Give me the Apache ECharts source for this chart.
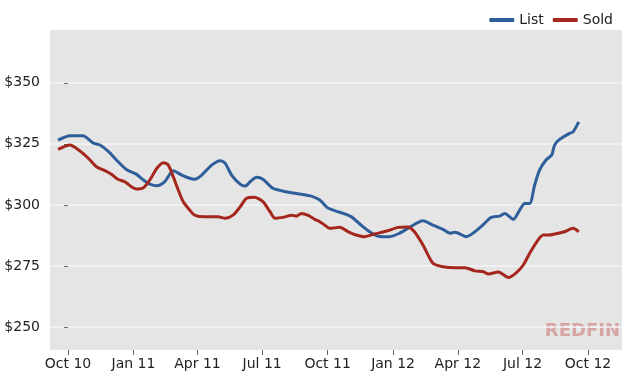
<!DOCTYPE html>
<html>
<head>
<meta charset="utf-8">
<script src="https://cdn.jsdelivr.net/npm/echarts@6/dist/echarts.min.js"></script>
<style>html,body{margin:0;padding:0;background:#fff;}#c{width:625px;height:375px;}</style>
</head>
<body>
<div id="c"></div>
<script>
// ---- Data ----
const listDates = ['2010-09-17','2010-10-04','2010-10-22','2010-11-05','2010-11-15','2010-11-27','2010-12-08','2010-12-22',
  '2011-01-05','2011-01-15','2011-01-24','2011-02-03','2011-02-14','2011-02-26','2011-03-10','2011-03-21','2011-03-28',
  '2011-04-07','2011-04-21','2011-05-03','2011-05-10','2011-05-19','2011-05-31','2011-06-07','2011-06-14','2011-06-23',
  '2011-07-02','2011-07-16','2011-07-28','2011-08-11','2011-08-25','2011-09-08','2011-09-20','2011-10-02','2011-10-18',
  '2011-11-03','2011-11-17','2011-11-29','2011-12-11','2011-12-27','2012-01-10','2012-01-24','2012-02-12','2012-02-26',
  '2012-03-11','2012-03-21','2012-03-28','2012-04-13','2012-04-25','2012-05-06','2012-05-18','2012-05-30','2012-06-06',
  '2012-06-18','2012-06-27','2012-07-04','2012-07-11','2012-07-18','2012-07-25','2012-08-03','2012-08-11','2012-08-15',
  '2012-08-22','2012-09-05','2012-09-10','2012-09-18'];
const listValues = [326.5,328.3,328.3,325.4,324.5,321.8,318.4,314.5,
  312.6,310.2,308.5,307.8,309.5,314.0,312.2,310.9,310.5,
  312.2,316.3,318.1,317.0,312.2,308.5,307.7,309.5,311.3,
  310.5,306.8,305.8,305.0,304.4,303.6,302.0,298.6,297.0,
  295.2,291.7,289.0,287.2,287.0,288.4,290.8,293.5,291.7,
  290.0,288.4,288.8,287.0,289.0,291.7,294.9,295.4,296.5,
  294.1,297.9,300.6,300.6,308.1,314.3,318.4,320.4,324.5,
  326.8,329.3,329.9,334.0];

const soldDates = ['2010-09-17','2010-10-04','2010-10-13','2010-10-22','2010-11-01','2010-11-10','2010-11-22','2010-12-01',
  '2010-12-10','2010-12-20','2010-12-29','2011-01-05','2011-01-15','2011-01-24','2011-02-03','2011-02-12','2011-02-19',
  '2011-02-26','2011-03-05','2011-03-12','2011-03-21','2011-03-28','2011-04-11','2011-04-30','2011-05-10','2011-05-21',
  '2011-05-31','2011-06-09','2011-06-20','2011-07-02','2011-07-12','2011-07-19','2011-08-02','2011-08-11','2011-08-18',
  '2011-08-25','2011-09-03','2011-09-13','2011-09-20','2011-09-27','2011-10-04','2011-10-18','2011-10-30','2011-11-10',
  '2011-11-22','2011-12-06','2011-12-23','2012-01-08','2012-01-22','2012-01-31','2012-02-12','2012-02-26','2012-03-11',
  '2012-03-30','2012-04-11','2012-04-25','2012-05-07','2012-05-14','2012-05-28','2012-06-11','2012-06-22','2012-07-02',
  '2012-07-11','2012-07-21','2012-07-30','2012-08-08','2012-08-20','2012-08-29','2012-09-10','2012-09-18'];
const soldValues = [322.7,324.5,323.1,321.1,318.4,315.6,314.0,312.5,
  310.5,309.5,307.4,306.5,307.0,310.2,315.0,317.3,316.3,
  311.5,306.1,301.3,297.9,295.8,295.1,295.1,294.5,295.8,
  299.2,302.7,303.1,301.3,297.2,294.5,295.1,295.8,295.4,
  296.5,295.8,294.1,293.1,291.7,290.4,290.8,289.0,287.7,
  287.0,288.1,289.3,290.8,291.0,289.0,283.6,276.1,274.7,
  274.3,274.3,273.0,272.6,271.7,272.5,270.3,272.2,275.4,
  280.2,284.9,287.7,287.7,288.4,289.0,290.4,289.0];

const xTickDates = ['2010-10-01','2011-01-01','2011-04-01','2011-07-01','2011-10-01','2012-01-01','2012-04-01','2012-07-01','2012-10-01'];
const xTickLabels = ['Oct 10','Jan 11','Apr 11','Jul 11','Oct 11','Jan 12','Apr 12','Jul 12','Oct 12'];
const yTickValues = [250, 275, 300, 325, 350];
const yTickLabels = ['$250', '$275', '$300', '$325', '$350'];

// ---- Build chart ----
// x is measured in days since the first tick date
const DAY = 86400000;
function utc(s) { const p = s.split('-').map(Number); return Date.UTC(p[0], p[1] - 1, p[2]); }
const origin = utc(xTickDates[0]);
function dayOf(s) { return Math.round((utc(s) - origin) / DAY); }
const xTicks = xTickDates.map(dayOf);
const xMin = -25.3;
const xMax = 778.8;

const chart = echarts.init(document.getElementById('c'), null, { renderer: 'canvas' });
const font = 'DejaVu Sans';
chart.setOption({
  animation: false,
  backgroundColor: '#ffffff',
  grid: { left: 50, right: 3, top: 30, bottom: 25, show: true, backgroundColor: '#e5e5e5', borderWidth: 0 },
  legend: {
    right: 7, top: 8, itemWidth: 25, itemHeight: 4, itemGap: 9, icon: 'roundRect',
    textStyle: { fontFamily: font, fontSize: 14, color: '#222' },
    data: ['List', 'Sold']
  },
  xAxis: {
    type: 'value', min: xMin, max: xMax,
    axisLine: { show: false },
    axisTick: { show: true, customValues: xTicks, length: 5, lineStyle: { color: '#666', width: 1 } },
    axisLabel: {
      customValues: xTicks, margin: 7, fontFamily: font, fontSize: 14, color: '#222',
      formatter: function (v) {
        const i = xTicks.indexOf(v);
        return i >= 0 ? xTickLabels[i] : '';
      }
    },
    splitLine: { show: false }
  },
  yAxis: {
    type: 'value', min: 240.6, max: 371.6, minInterval: 25, maxInterval: 25,
    axisLine: { show: false },
    axisTick: { show: true, customValues: yTickValues, length: 4, lineStyle: { color: '#666', width: 1 } },
    axisLabel: {
      customValues: yTickValues, margin: 10, fontFamily: font, fontSize: 14, color: '#222',
      formatter: function (v) {
        const i = yTickValues.indexOf(v);
        return i >= 0 ? yTickLabels[i] : '';
      }
    },
    splitLine: { show: true, lineStyle: { color: '#f5f5f5', width: 1.5 } }
  },
  series: [
    {
      name: 'List', type: 'line', showSymbol: false, symbol: 'none', smooth: 0.25,
      lineStyle: { width: 3, color: '#2e5f9b' }, itemStyle: { color: '#2e5f9b' },
      data: listDates.map((d, i) => [dayOf(d), listValues[i]])
    },
    {
      name: 'Sold', type: 'line', showSymbol: false, symbol: 'none', smooth: 0.25,
      lineStyle: { width: 3, color: '#a5261c' }, itemStyle: { color: '#a5261c' },
      data: soldDates.map((d, i) => [dayOf(d), soldValues[i]])
    }
  ],
  graphic: [{
    type: 'text', right: 5, top: 322, silent: true,
    style: { text: 'REDFIN', fontFamily: font, fontWeight: 'bold', fontSize: 18, fill: '#d7a4a4' }
  }]
});
</script>
</body>
</html>
